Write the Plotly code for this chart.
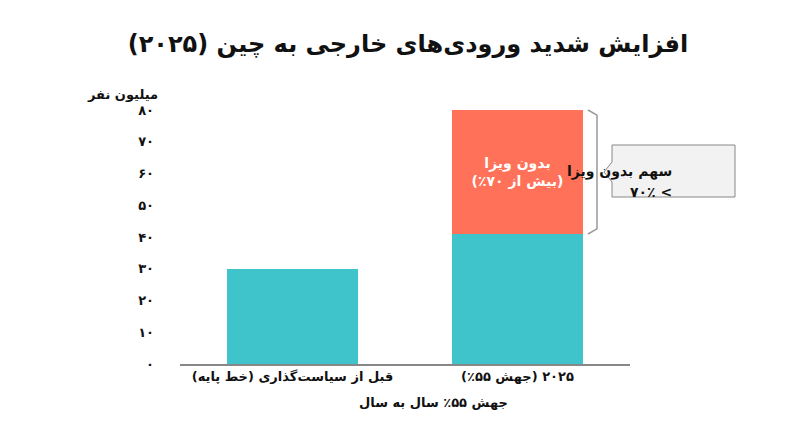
import plotly.graph_objects as go

RLM = "\u200f"
categories = ["قبل از سیاست‌گذاری (خط پایه)", "۲۰۲۵ (جهش ۵۵٪)"]
base_values = [30, 41]
visa_free = [0, 39]
tick_vals = [0, 10, 20, 30, 40, 50, 60, 70, 80]
tick_text = ["۰", "۱۰", "۲۰", "۳۰", "۴۰", "۵۰", "۶۰", "۷۰", "۸۰"]

FONT = "DejaVu Sans"
teal = "#40C4CC"
coral = "#FF7158"

fig = go.Figure()
fig.add_trace(go.Bar(x=[0, 1], y=base_values, marker_color=teal, marker_line_width=0))
fig.add_trace(go.Bar(x=[0, 1], y=visa_free, marker_color=coral, marker_line_width=0,
                     text=["", f"<b>{RLM}بدون ویزا{RLM}<br>{RLM}(بیش از ۷۰٪){RLM}</b>"], textposition="inside",
                     insidetextanchor="middle", textfont=dict(color="white", size=14, family=FONT)))

fig.update_layout(
    barmode="stack", bargap=0.42, showlegend=False,
    width=800, height=447, paper_bgcolor="white", plot_bgcolor="white",
    margin=dict(l=172, r=178, t=102, b=91),
    font=dict(family=FONT, color="#111"),
    title=dict(text="<b>افزایش شدید ورودی‌های خارجی به چین (۲۰۲۵)</b>", x=0.5, xanchor="center",
               y=0.92, yanchor="middle", font=dict(size=24, family=FONT, color="#111")),
    xaxis=dict(range=[-0.5, 1.5], tickvals=[0, 1], ticktext=[f"<b>{RLM}{c}{RLM}</b>" for c in categories],
               showline=True, linecolor="#888", linewidth=1.5, showgrid=False, ticks="",
               tickfont=dict(size=13, family=FONT, color="#111")),
    yaxis=dict(range=[0, 80], tickvals=tick_vals, ticktext=["<b>%s</b>" % t for t in tick_text],
               showgrid=False, zeroline=False, ticks="", ticklabelstandoff=25,
               tickfont=dict(size=13, family=FONT, color="#111")),
)

def px(x, y):
    return (x - 180) / 450, (364 - y) / 254

fig.add_annotation(x=px(160, 0)[0], y=px(0, 85)[1], xref="paper", yref="paper", showarrow=False,
                   text="<b>میلیون نفر</b>", font=dict(size=13, family=FONT), xanchor="right")
fig.add_annotation(x=px(510, 0)[0], y=px(0, 412)[1], xref="paper", yref="paper", showarrow=False,
                   text=f"<b>{RLM}جهش ۵۵٪ سال به سال{RLM}</b>", font=dict(size=13, family=FONT))

# bracket
x0, _ = px(588, 0); x1, _ = px(597, 0)
_, yt = px(0, 110); _, yb = px(0, 234)
fig.add_shape(type="path", xref="paper", yref="paper",
              path=f"M {x0},{yt} L {x1},{yt-0.02} L {x1},{yb+0.02} L {x0},{yb}",
              line=dict(color="#999", width=1.5))

# callout box
bx0, by0 = px(612, 145); bx1, by1 = px(735, 197)
tipx, tipy = px(604, 172)
m1 = px(0, 162)[1]; m2 = px(0, 182)[1]
fig.add_shape(type="path", xref="paper", yref="paper",
              path=f"M {bx0},{by0} L {bx1},{by0} L {bx1},{by1} L {bx0},{by1} L {bx0},{m2} L {tipx},{tipy} L {bx0},{m1} Z",
              fillcolor="#F2F2F2", line=dict(color="#888", width=1))
cx = (bx0 + bx1) / 2
fig.add_annotation(x=cx, y=px(0, 161)[1], xref="paper", yref="paper", showarrow=False,
                   text=f"<b>{RLM}سهم بدون ویزا{RLM}</b>", font=dict(size=14, family=FONT, color="#111"))
fig.add_annotation(x=cx, y=px(0, 182)[1], xref="paper", yref="paper", showarrow=False,
                   text=f"<b>{RLM}> ۷۰٪{RLM}</b>", font=dict(size=14, family=FONT, color="#111"))

fig.write_html("out.html")
